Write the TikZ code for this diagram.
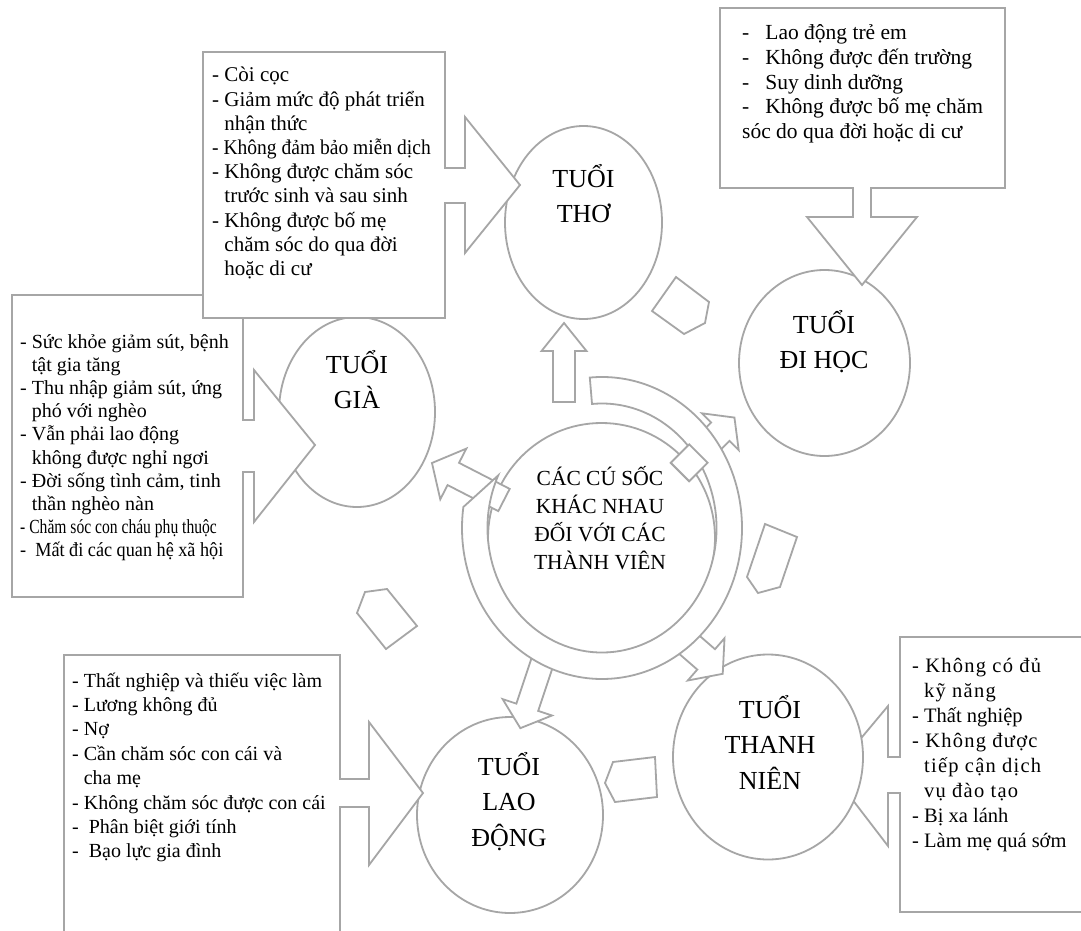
\documentclass[tikz,border=0pt]{standalone}
\usepackage{fontspec}
\setmainfont{Liberation Serif}
\newfontfamily\widefont[LetterSpace=6]{Liberation Serif}
\usepackage{graphicx}
\usetikzlibrary{shapes.geometric, calc}

\definecolor{lineGray}{HTML}{A6A6A6}

% block arrow: base point, angle, length, shaft width, head width, head length
\newcommand{\blockarrow}[6]{%
    \begin{scope}[shift={#1}, rotate=#2]
        \draw[shapeline] (0,{#4/2}) -- ({#3-#6},{#4/2}) -- ({#3-#6},{#5/2})
            -- (#3,0) -- ({#3-#6},{-#5/2}) -- ({#3-#6},{-#4/2}) -- (0,{-#4/2}) -- cycle;
    \end{scope}}
\newcommand{\hang}{\phantom{- }}

\begin{document}
\begin{tikzpicture}[
        x=1pt, y=-1pt,
        shapeline/.style={draw=lineGray, line width=1.8pt, fill=white, line join=miter},
        agering/.style={ellipse, shapeline, inner sep=0pt},
        agelabel/.style={anchor=base, inner sep=0pt, font=\fontsize{26}{35.5}\selectfont},
        shocklabel/.style={anchor=base, inner sep=0pt, font=\fontsize{21.5}{28}\selectfont},
        listtext/.style={anchor=base west, inner sep=0pt}
    ]

    \useasboundingbox (0,0) rectangle (1081,931);
    \fill[white] (0,0) rectangle (1081,931);
    \clip (0,0) rectangle (1081,931);

    % Youth callout (lies under its circle)
    \draw[shapeline] (900,637) -- (1090,637) -- (1090,912) -- (900,912) -- (900,793)
        -- (888,793) -- (888,846) -- (832,773) -- (888,706) -- (888,757) -- (900,757) -- cycle;

    % Age circles
    \node[agering, minimum width=157pt, minimum height=193pt] (tho) at (583.5,222.5) {};
    \node[agering, minimum width=171pt, minimum height=186pt] (hoc) at (824.5,363) {};
    \node[agering, minimum width=156pt, minimum height=190pt] (gia) at (357,412) {};
    \node[agering, minimum width=186pt, minimum height=196pt] (laodong) at (510,815) {};
    \node[agering, minimum width=190pt, minimum height=205pt] (thanhnien) at (768,757) {};

    % Centre circle and its arrows
    \node[agering, minimum width=227pt, minimum height=230pt] (shock) at (601.5,538) {};
    \blockarrow{(504,500)}{152.8}{81}{25}{57}{24}
    \blockarrow{(680,472)}{45}{77}{26}{52}{20}
    \blockarrow{(544,657)}{-108.4}{75}{23}{52}{22}
    \blockarrow{(685,641)}{-41}{50}{27}{56}{22}

    % Ring around the centre
    \coordinate (ringc) at (602,528);
    \draw[shapeline] ($(ringc)+(-95:140 and 151)$)
        arc[start angle=-95, end angle=188, x radius=140, y radius=151]
        -- ($(ringc)+(205:114.5 and 124.5)$)
        arc[start angle=205, end angle=-95, x radius=114.5, y radius=124.5] -- cycle;
    \begin{scope}[shift={(680,472)}, rotate=45]
        \draw[shapeline] (0,-13) -- (26,-13) -- (26,13) -- (0,13) -- cycle;
    \end{scope}
    \blockarrow{(564,402)}{90}{79}{22}{45}{28}

    % Pentagons between the ages
    \draw[shapeline] (676,277) -- (709,302) -- (705,323) -- (684,334) -- (652,311) -- cycle;
    \draw[shapeline] (765,524) -- (797,537) -- (780,587) -- (758,593) -- (747,577) -- cycle;
    \draw[shapeline] (613,762) -- (655,757) -- (657,797) -- (615,802) -- (605,783) -- cycle;
    \draw[shapeline] (365,592) -- (387,589) -- (417,626) -- (386,649) -- (357,613) -- cycle;

    % Callouts
    \draw[shapeline] (12,295) -- (243,295) -- (243,420) -- (254,420) -- (254,370) -- (315,445)
        -- (254,522) -- (254,472) -- (243,472) -- (243,597) -- (12,597) -- cycle;
    \draw[shapeline] (203,52) -- (445,52) -- (445,168) -- (465,168) -- (465,117) -- (520,185)
        -- (465,253) -- (465,203) -- (445,203) -- (445,318) -- (203,318) -- cycle;
    \draw[shapeline] (720,8) -- (1005,8) -- (1005,188) -- (871,188) -- (871,217) -- (917,217)
        -- (862,285) -- (807,217) -- (853,217) -- (853,188) -- (720,188) -- cycle;
    \draw[shapeline] (64,655) -- (340,655) -- (340,779) -- (369,779) -- (369,722) -- (423,793)
        -- (369,865) -- (369,807) -- (340,807) -- (340,940) -- (64,940) -- cycle;

    % Circle labels
    \node[shocklabel] (shock-text) at (600,485)
        {\parbox[t]{200pt}{\centering CÁC CÚ SỐC\\KHÁC NHAU\\ĐỐI VỚI CÁC\\THÀNH VIÊN}};
    \node[agelabel] (tho-text) at (583.5,187) {\parbox[t]{150pt}{\centering TUỔI\\THƠ}};
    \node[agelabel] (hoc-text) at (824,333) {\parbox[t]{150pt}{\centering TUỔI\\ĐI HỌC}};
    \node[agelabel] (gia-text) at (357,373) {\parbox[t]{150pt}{\centering TUỔI\\GIÀ}};
    \node[agelabel] (laodong-text) at (509,775) {\parbox[t]{150pt}{\centering TUỔI\\LAO\\ĐỘNG}};
    \node[agelabel] (thanhnien-text) at (770,718) {\parbox[t]{150pt}{\centering TUỔI\\THANH\\NIÊN}};

    % Callout texts
    \node[listtext, font=\fontsize{21}{24.2}\selectfont] (tho-list) at (212,82) {\parbox[t]{240pt}{%
        - Còi cọc\\
        - Giảm mức độ phát triển\\
        \hang nhận thức\\
        \scalebox{0.93}[1]{- Không đảm bảo miễn dịch}\\
        - Không được chăm sóc\\
        \hang trước sinh và sau sinh\\
        - Không được bố mẹ\\
        \hang chăm sóc do qua đời\\
        \hang hoặc di cư}};
    \node[listtext, font=\fontsize{21.5}{24.6}\selectfont] (hoc-list) at (742,40) {\parbox[t]{270pt}{%
        -\hspace{16pt}Lao động trẻ em\\
        -\hspace{16pt}Không được đến trường\\
        -\hspace{16pt}Suy dinh dưỡng\\
        -\hspace{16pt}Không được bố mẹ chăm\\
        sóc do qua đời hoặc di cư}};
    \node[listtext, font=\fontsize{20}{23.2}\selectfont] (gia-list) at (20,348) {\parbox[t]{240pt}{%
        - Sức khỏe giảm sút, bệnh\\
        \hang tật gia tăng\\
        - Thu nhập giảm sút, ứng\\
        \hang phó với nghèo\\
        - Vẫn phải lao động\\
        \hang không được nghỉ ngơi\\
        - Đời sống tình cảm, tinh\\
        \hang thần nghèo nàn\\
        \scalebox{0.78}[1]{- Chăm sóc con cháu phụ thuộc}\\
        \scalebox{0.91}[1]{-~~Mất đi các quan hệ xã hội}}};
    \node[listtext, font=\fontsize{20}{24.4}\selectfont] (laodong-list) at (72,687) {\parbox[t]{280pt}{%
        - Thất nghiệp và thiếu việc làm\\
        - Lương không đủ\\
        - Nợ\\
        - Cần chăm sóc con cái và\\
        \hang cha mẹ\\
        - Không chăm sóc được con cái\\
        -~~Phân biệt giới tính\\
        -~~Bạo lực gia đình}};
    \node[listtext, font=\fontsize{20.5}{25}\selectfont] (thanhnien-list) at (912,672) {\parbox[t]{200pt}{%
        {\widefont - Không có đủ}\\
        \hang{\widefont kỹ năng}\\
        - Thất nghiệp\\
        {\widefont - Không được}\\
        \hang{\widefont tiếp cận dịch}\\
        \hang{\widefont vụ đào tạo}\\
        - Bị xa lánh\\
        - Làm mẹ quá sớm}};

\end{tikzpicture}
\end{document}
